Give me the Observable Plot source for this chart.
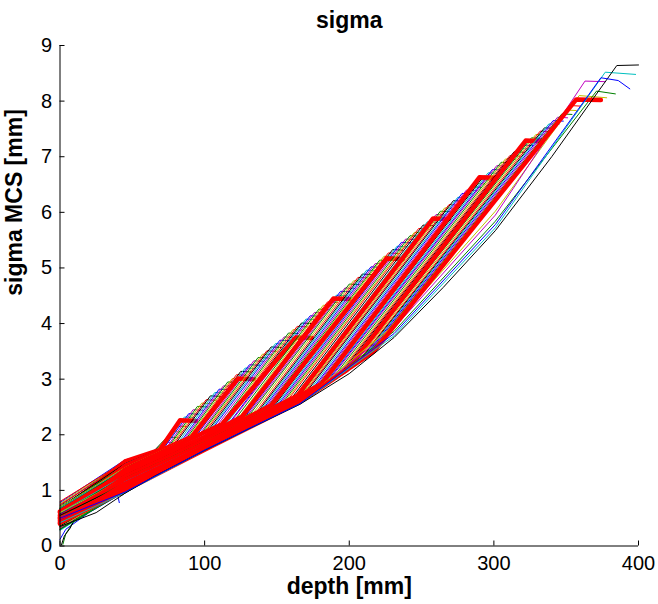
<!DOCTYPE html>
<html><head><meta charset="utf-8">
<script src="https://cdn.jsdelivr.net/npm/d3@7"></script>
<script src="https://cdn.jsdelivr.net/npm/@observablehq/plot@0.6"></script>
<style>html,body{margin:0;padding:0;background:#fff}</style>
</head><body><div id="chart"></div>
<script>
const titleText = "sigma";
const xLabel = "depth [mm]";
const yLabel = "sigma MCS [mm]";
const xTicks = [0, 100, 200, 300, 400];
const yTicks = [0, 1, 2, 3, 4, 5, 6, 7, 8, 9];

// thin simulated curves (set A): [depth, sigma] points
const thinCurves = [
  [[0,0.78],[45,1.55],[61,1.64],[68,1.77],[74,1.76]],
  [[0,0.72],[45,1.54],[64,1.68],[74,1.96],[81,1.95]],
  [[0,0.80],[45,1.52],[68,1.72],[80,2.16],[87,2.15]],
  [[0,0.66],[45,1.51],[71,1.75],[86,2.32],[93,2.31]],
  [[0,0.74],[45,1.50],[74,1.78],[92,2.45],[99,2.44]],
  [[0,0.62],[45,1.49],[77,1.82],[98,2.57],[105,2.56]],
  [[0,0.70],[45,1.48],[80,1.85],[104,2.70],[111,2.69]],
  [[0,0.58],[45,1.47],[84,1.89],[110,2.82],[117,2.81]],
  [[0,0.68],[45,1.46],[87,1.92],[116,2.95],[123,2.94]],
  [[0,0.55],[45,1.44],[90,1.96],[122,3.08],[129,3.07]],
  [[0,0.64],[45,1.43],[93,1.99],[128,3.20],[135,3.19]],
  [[0,0.52],[45,1.42],[97,2.03],[134,3.33],[141,3.32]],
  [[0,0.70],[45,1.41],[100,2.07],[140,3.45],[147,3.44]],
  [[0,0.60],[45,1.40],[103,2.10],[146,3.58],[153,3.57]],
  [[0,0.48],[45,1.39],[106,2.13],[152,3.70],[159,3.69]],
  [[0,0.66],[45,1.38],[110,2.16],[158,3.83],[165,3.82]],
  [[0,0.56],[45,1.36],[113,2.19],[164,3.95],[171,3.94]],
  [[0,0.45],[45,1.35],[100,1.99],[116,2.23],[170,4.08],[177,4.07]],
  [[0,0.62],[45,1.34],[100,1.98],[119,2.26],[176,4.20],[183,4.19]],
  [[0,0.50],[45,1.33],[100,1.97],[123,2.29],[182,4.33],[189,4.32]],
  [[0,0.58],[45,1.32],[100,1.96],[126,2.32],[188,4.45],[195,4.44]],
  [[0,0.40],[45,1.31],[100,1.95],[129,2.36],[194,4.58],[201,4.57]],
  [[0,0.55],[45,1.30],[100,1.94],[132,2.39],[200,4.71],[207,4.70]],
  [[0,0.46],[45,1.28],[100,1.93],[136,2.42],[206,4.83],[213,4.82]],
  [[0,0.60],[45,1.27],[100,1.92],[139,2.45],[212,4.96],[219,4.95]],
  [[0,0.38],[45,1.26],[100,1.91],[142,2.48],[218,5.08],[225,5.07]],
  [[0,0.52],[45,1.25],[100,1.90],[145,2.52],[224,5.21],[231,5.20]],
  [[0,0.44],[45,1.24],[100,1.89],[149,2.55],[230,5.33],[237,5.32]],
  [[0,0.57],[45,1.23],[100,1.88],[152,2.58],[236,5.46],[243,5.45]],
  [[0,0.36],[45,1.22],[100,1.87],[155,2.61],[242,5.58],[249,5.57]],
  [[0,0.50],[45,1.20],[100,1.86],[158,2.64],[248,5.71],[255,5.70]],
  [[0,0.42],[45,1.19],[100,1.85],[162,2.67],[254,5.83],[261,5.82]],
  [[0,0.55],[45,1.18],[100,1.84],[165,2.71],[260,5.96],[267,5.95]],
  [[0,0.34],[45,1.17],[100,1.83],[168,2.75],[266,6.08],[273,6.07]],
  [[0,0.47],[45,1.16],[100,1.82],[171,2.79],[272,6.21],[279,6.20]],
  [[0,0.40],[45,1.15],[100,1.81],[175,2.84],[278,6.34],[285,6.33]],
  [[0,0.52],[45,1.14],[100,1.80],[178,2.88],[284,6.46],[291,6.45]],
  [[0,0.32],[45,1.12],[100,1.79],[181,2.92],[290,6.59],[297,6.58]],
  [[0,0.45],[45,1.11],[100,1.78],[184,2.96],[296,6.71],[303,6.70]],
  [[0,0.38],[45,1.10],[100,1.77],[166,2.66],[187,3.01],[302,6.84],[309,6.83]],
  [[0,0.50],[45,1.09],[100,1.765],[166,2.65],[191,3.06],[308,6.96],[315,6.95]],
  [[0,0.30],[45,1.08],[100,1.76],[166,2.64],[194,3.10],[314,7.09],[321,7.08]],
  [[0,0.43],[45,1.07],[100,1.755],[166,2.63],[197,3.14],[320,7.21],[327,7.20]],
  [[0,0.36],[45,1.06],[100,1.75],[166,2.62],[200,3.19],[326,7.34],[333,7.33]],
  [[0,0.48],[45,1.05],[100,1.745],[166,2.61],[204,3.25],[332,7.46],[339,7.45]],
  [[0,0.28],[45,1.03],[100,1.74],[166,2.60],[207,3.31],[338,7.59],[345,7.58]],
  [[0,0.40],[45,1.02],[100,1.735],[166,2.59],[210,3.36],[344,7.71],[351,7.70]],
  [[0,0.34],[45,1.01],[100,1.73],[166,2.58],[213,3.43],[350,7.84],[357,7.83]]
];

// thin simulated curves (set B, in between set A)
const thinCurvesB = [
  [[0,0.60],[45,1.545],[63,1.66],[71,1.87],[78,1.86]],
  [[0,0.76],[45,1.53],[66,1.70],[77,2.06],[84,2.05]],
  [[0,0.68],[45,1.515],[69,1.735],[83,2.25],[90,2.24]],
  [[0,0.58],[45,1.505],[72,1.765],[89,2.38],[96,2.37]],
  [[0,0.66],[45,1.495],[75.5,1.80],[95,2.51],[102,2.50]],
  [[0,0.74],[45,1.485],[78.5,1.835],[101,2.63],[108,2.62]],
  [[0,0.54],[45,1.475],[82,1.87],[107,2.76],[114,2.75]],
  [[0,0.64],[45,1.465],[85.5,1.905],[113,2.88],[120,2.87]],
  [[0,0.50],[45,1.45],[88.5,1.94],[119,3.01],[126,3.00]],
  [[0,0.68],[45,1.435],[91.5,1.975],[125,3.14],[132,3.13]],
  [[0,0.46],[45,1.425],[95,2.01],[131,3.26],[138,3.25]],
  [[0,0.62],[45,1.415],[98.5,2.05],[137,3.39],[144,3.38]],
  [[0,0.50],[45,1.405],[101.5,2.09],[143,3.51],[150,3.50]],
  [[0,0.68],[45,1.395],[104.5,2.115],[149,3.64],[156,3.63]],
  [[0,0.56],[45,1.385],[108,2.145],[155,3.76],[162,3.75]],
  [[0,0.44],[45,1.37],[111.5,2.175],[161,3.89],[168,3.88]],
  [[0,0.64],[45,1.355],[114.5,2.21],[167,4.01],[174,4.00]],
  [[0,0.52],[45,1.345],[100,1.985],[118,2.245],[173,4.14],[180,4.13]],
  [[0,0.42],[45,1.335],[100,1.975],[121,2.275],[179,4.26],[186,4.25]],
  [[0,0.60],[45,1.325],[100,1.965],[124.5,2.305],[185,4.39],[192,4.38]],
  [[0,0.48],[45,1.315],[100,1.955],[127.5,2.34],[191,4.51],[198,4.50]],
  [[0,0.62],[45,1.305],[100,1.945],[130.5,2.375],[197,4.64],[204,4.63]],
  [[0,0.42],[45,1.29],[100,1.935],[134,2.405],[203,4.77],[210,4.76]],
  [[0,0.54],[45,1.275],[100,1.925],[137.5,2.435],[209,4.89],[216,4.88]],
  [[0,0.44],[45,1.265],[100,1.915],[140.5,2.465],[215,5.02],[222,5.01]],
  [[0,0.58],[45,1.255],[100,1.905],[143.5,2.50],[221,5.14],[228,5.13]],
  [[0,0.40],[45,1.245],[100,1.895],[147,2.535],[227,5.27],[234,5.26]],
  [[0,0.54],[45,1.235],[100,1.885],[150.5,2.565],[233,5.39],[240,5.38]],
  [[0,0.46],[45,1.225],[100,1.875],[153.5,2.595],[239,5.52],[246,5.51]],
  [[0,0.60],[45,1.21],[100,1.865],[156.5,2.625],[245,5.64],[252,5.63]],
  [[0,0.38],[45,1.195],[100,1.855],[160,2.655],[251,5.77],[258,5.76]],
  [[0,0.50],[45,1.185],[100,1.845],[163.5,2.69],[257,5.89],[264,5.88]],
  [[0,0.40],[45,1.175],[100,1.835],[166.5,2.73],[263,6.02],[270,6.01]],
  [[0,0.52],[45,1.165],[100,1.825],[169.5,2.77],[269,6.14],[276,6.13]],
  [[0,0.36],[45,1.155],[100,1.815],[173,2.815],[275,6.27],[282,6.26]],
  [[0,0.48],[45,1.145],[100,1.805],[176.5,2.86],[281,6.40],[288,6.39]],
  [[0,0.42],[45,1.13],[100,1.795],[179.5,2.90],[287,6.52],[294,6.51]],
  [[0,0.55],[45,1.115],[100,1.785],[182.5,2.94],[293,6.65],[300,6.64]],
  [[0,0.34],[45,1.105],[100,1.775],[166,2.685],[185.5,2.985],[299,6.77],[306,6.76]],
  [[0,0.46],[45,1.095],[100,1.767],[166,2.655],[189,3.035],[305,6.90],[312,6.89]],
  [[0,0.40],[45,1.085],[100,1.762],[166,2.645],[192.5,3.08],[311,7.02],[318,7.01]],
  [[0,0.52],[45,1.075],[100,1.757],[166,2.635],[195.5,3.12],[317,7.15],[324,7.14]],
  [[0,0.32],[45,1.065],[100,1.752],[166,2.625],[198.5,3.165],[323,7.27],[330,7.26]],
  [[0,0.44],[45,1.055],[100,1.747],[166,2.615],[202,3.22],[329,7.40],[336,7.39]],
  [[0,0.36],[45,1.04],[100,1.742],[166,2.605],[205.5,3.28],[335,7.52],[342,7.51]],
  [[0,0.46],[45,1.025],[100,1.737],[166,2.595],[208.5,3.335],[341,7.65],[348,7.64]],
  [[0,0.30],[45,1.015],[100,1.732],[166,2.585],[211.5,3.395],[347,7.77],[354,7.76]],
  [[0,0.42],[45,1.005],[100,1.728],[166,2.578],[215,3.46],[353,7.92],[360,7.91]]
];

// longest curves ending at the top right
const endCurves = [
  [[0,0.38],[45,1.00],[100,1.73],[166,2.575],[231,3.97],[301,6.02],[359,8.10],[378,8.06]],
  [[0,0.44],[45,0.99],[100,1.73],[166,2.57],[231,3.92],[301,5.95],[363,8.36],[377,8.35]],
  [[0,0.30],[45,0.98],[100,1.725],[166,2.565],[231,3.86],[301,5.84],[371,8.18],[384,8.13]],
  [[0,0.50],[45,0.97],[100,1.725],[166,2.56],[231,3.82],[301,5.78],[374,8.42],[386,8.37],[394,8.22]],
  [[0,0.42],[45,0.96],[100,1.72],[166,2.555],[231,3.78],[301,5.72],[377,8.52],[398,8.48]],
  [[0,0.35],[25,0.60],[45,0.95],[65,1.25],[100,1.72],[130,2.10],[166,2.55],[200,3.10],[231,3.75],[265,4.65],[301,5.67],[340,7.00],[385,8.64],[400,8.65]]
];

// curves starting near zero at the entrance
const lowStartCurves = [
  [[1,0.02],[3,0.18],[7,0.32],[10,0.48],[22,0.66],[38,0.90],[43,0.92],[52,1.06],[66,1.38],[85,1.60],[110,1.90]],
  [[2,0.03],[4,0.22],[9,0.42],[30,0.78],[50,1.08],[70,1.35]],
  [[0,0.12],[4,0.30],[20,0.60],[40,0.90],[41,0.78]]
];

// thick red (measured) curves
const thickRedCurves = [
  [[0,0.60],[45,1.52],[69,1.73],[83,2.26],[94,2.25]],
  [[0,0.55],[45,1.44],[91,1.96],[123,3.01],[134,3.00]],
  [[0,0.50],[45,1.37],[112,2.19],[163,3.75],[174,3.74]],
  [[0,0.62],[45,1.32],[100,1.96],[126,2.33],[189,4.45],[200,4.44]],
  [[0,0.45],[45,1.25],[100,1.90],[146,2.53],[226,5.17],[237,5.16]],
  [[0,0.52],[45,1.19],[100,1.84],[164,2.70],[258,5.89],[269,5.88]],
  [[0,0.40],[45,1.12],[100,1.79],[181,2.92],[290,6.63],[301,6.62]],
  [[0,0.48],[45,1.07],[100,1.75],[166,2.64],[198,3.16],[322,7.29],[333,7.28]],
  [[0,0.42],[45,1.00],[100,1.73],[166,2.59],[217,3.50],[357,8.03],[374,8.02]]
];

// styles
const palette = {b:"#0000ff", g:"#008000", r:"#ff0000", c:"#00bfbf", m:"#bf00bf", y:"#bfbf00", k:"#000000"};
const cycle = ["b","g","r","c","m","y","k"];
const endColors = ["y","m","g","b","c","k"];
const lowColors = ["k","g","b"];
const thinWidth = 1, thickWidth = 4.5;

// drawing order: by end depth; each thick red curve is drawn after the thin curves
// whose steps sit next to its own step (as in the original, interleaved plot)
const endDepth = pts => pts[pts.length - 2][0];
const curveList = [];
lowStartCurves.forEach((pts, i) => curveList.push({pts, color: palette[lowColors[i]], width: thinWidth, key: endDepth(pts)}));
thinCurves.forEach((pts, i) => curveList.push({pts, color: palette[cycle[i % 7]], width: thinWidth, key: endDepth(pts)}));
thinCurvesB.forEach((pts, i) => curveList.push({pts, color: palette[cycle[(i + 4) % 7]], width: thinWidth, key: endDepth(pts)}));
endCurves.forEach((pts, i) => curveList.push({pts, color: palette[endColors[i]], width: thinWidth, key: endDepth(pts)}));
thickRedCurves.forEach((pts) => curveList.push({pts, color: palette.r, width: thickWidth, key: endDepth(pts) + 15}));
curveList.sort((a, b) => a.key - b.key);

const rows = [];
curveList.forEach((c, i) => c.pts.forEach(([d, s]) => rows.push({id: i, depth: d, sigma: s, color: c.color, width: c.width})));

const font = "'Liberation Sans', Arial, Helvetica, sans-serif";
const W = 658, H = 604, mL = 59.5, mR = 20, mT = 45, mB = 58.5;
const innerW = W - mL - mR, innerH = H - mT - mB;

const chart = Plot.plot({
  width: W, height: H,
  marginLeft: mL, marginRight: mR, marginTop: mT, marginBottom: mB,
  x: {domain: [0, 400]},
  y: {domain: [0, 9]},
  color: {type: "identity"},
  style: {fontFamily: font, fontSize: "20px", color: "black", background: "white", overflow: "visible"},
  marks: [
    Plot.line(rows, {x: "depth", y: "sigma", z: "id", stroke: "color", strokeWidth: "width", strokeLinejoin: "round"}),
    Plot.ruleX([0], {stroke: "black"}),
    Plot.ruleY([0], {stroke: "black"}),
    Plot.tickX(xTicks, {x: d => d, insetTop: innerH - 5, stroke: "black"}),
    Plot.tickY(yTicks, {y: d => d, insetRight: innerW - 5, stroke: "black"}),
    Plot.axisX({ticks: xTicks, tickSize: 0, tickPadding: 10, fontSize: 20, label: null, tickFormat: d => String(d)}),
    Plot.axisY({ticks: yTicks, tickSize: 0, tickPadding: 8, fontSize: 20, label: null, tickFormat: d => String(d)}),
    Plot.text([titleText], {text: d => d, frameAnchor: "top", dy: -18, lineAnchor: "bottom", fontWeight: "bold", fontSize: 23}),
    Plot.text([xLabel], {text: d => d, frameAnchor: "bottom", dy: 47.5, lineAnchor: "bottom", fontWeight: "bold", fontSize: 23}),
    Plot.text([yLabel], {text: d => d, frameAnchor: "left", dx: -38, rotate: -90, lineAnchor: "bottom", fontWeight: "bold", fontSize: 23})
  ]
});
document.getElementById("chart").appendChild(chart);
</script>
</body></html>
